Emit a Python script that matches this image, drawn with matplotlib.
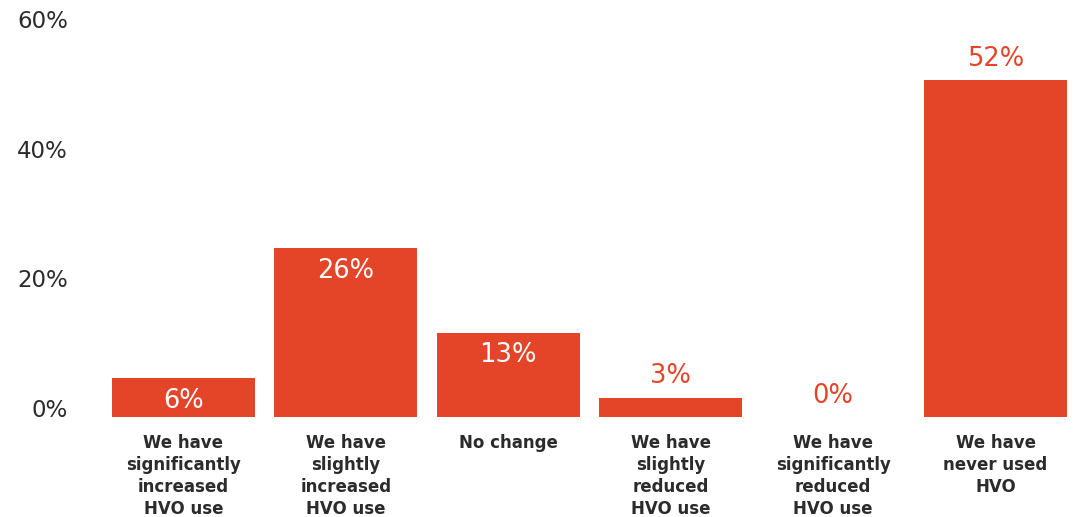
import matplotlib.pyplot as plt

# Survey answers and share of respondents (%)
categories = [
    "We have\nsignificantly\nincreased\nHVO use",
    "We have\nslightly\nincreased\nHVO use",
    "No change",
    "We have\nslightly\nreduced\nHVO use",
    "We have\nsignificantly\nreduced\nHVO use",
    "We have\nnever used\nHVO",
]
shares = [6, 26, 13, 3, 0, 52]
y_ticks = [0, 20, 40, 60]

bar_color = "#E44427"
text_color = "#2b2b2b"
# value label drawn inside the bar (white) or above it (red)
label_inside = [True, True, True, False, False, False]

plt.rcParams["font.family"] = ["DejaVu Sans"]

fig = plt.figure(figsize=(10.75, 5.17), dpi=100)
ax = fig.add_axes([0.0, 100 / 517, 1.0, 389 / 517])

x = range(len(categories))
bars = ax.bar(x, shares, width=0.88, color=bar_color)

ax.set_ylim(0, 60)
ax.set_xlim((0 - 183.5) / 162.4, (1075 - 183.5) / 162.4)
ax.set_yticks(y_ticks)
ax.set_yticklabels([f"{t}%" for t in y_ticks], fontsize=16.5, color=text_color)
for lab in ax.get_yticklabels():
    lab.set_verticalalignment("baseline")
    lab.set_horizontalalignment("right")
ax.tick_params(axis="y", length=0, direction="in", pad=-49)
ax.set_xticks([])
for s in ax.spines.values():
    s.set_visible(False)

for i, (rect, v) in enumerate(zip(bars, shares)):
    cx = rect.get_x() + rect.get_width() / 2
    if label_inside[i]:
        ax.annotate(f"{v}%", (cx, v), xytext=(0, -7), textcoords="offset points",
                    ha="center", va="top", color="white", fontsize=18.5)
    else:
        ax.annotate(f"{v}%", (cx, v), xytext=(0, 6), textcoords="offset points",
                    ha="center", va="bottom", color=bar_color, fontsize=18.5)
    ax.annotate(categories[i], (cx, 0), xytext=(0, -12), textcoords="offset points",
                ha="center", va="top", color=text_color, fontsize=12,
                fontweight="bold", linespacing=1.3, annotation_clip=False)

fig.savefig("out.png", dpi=100)
